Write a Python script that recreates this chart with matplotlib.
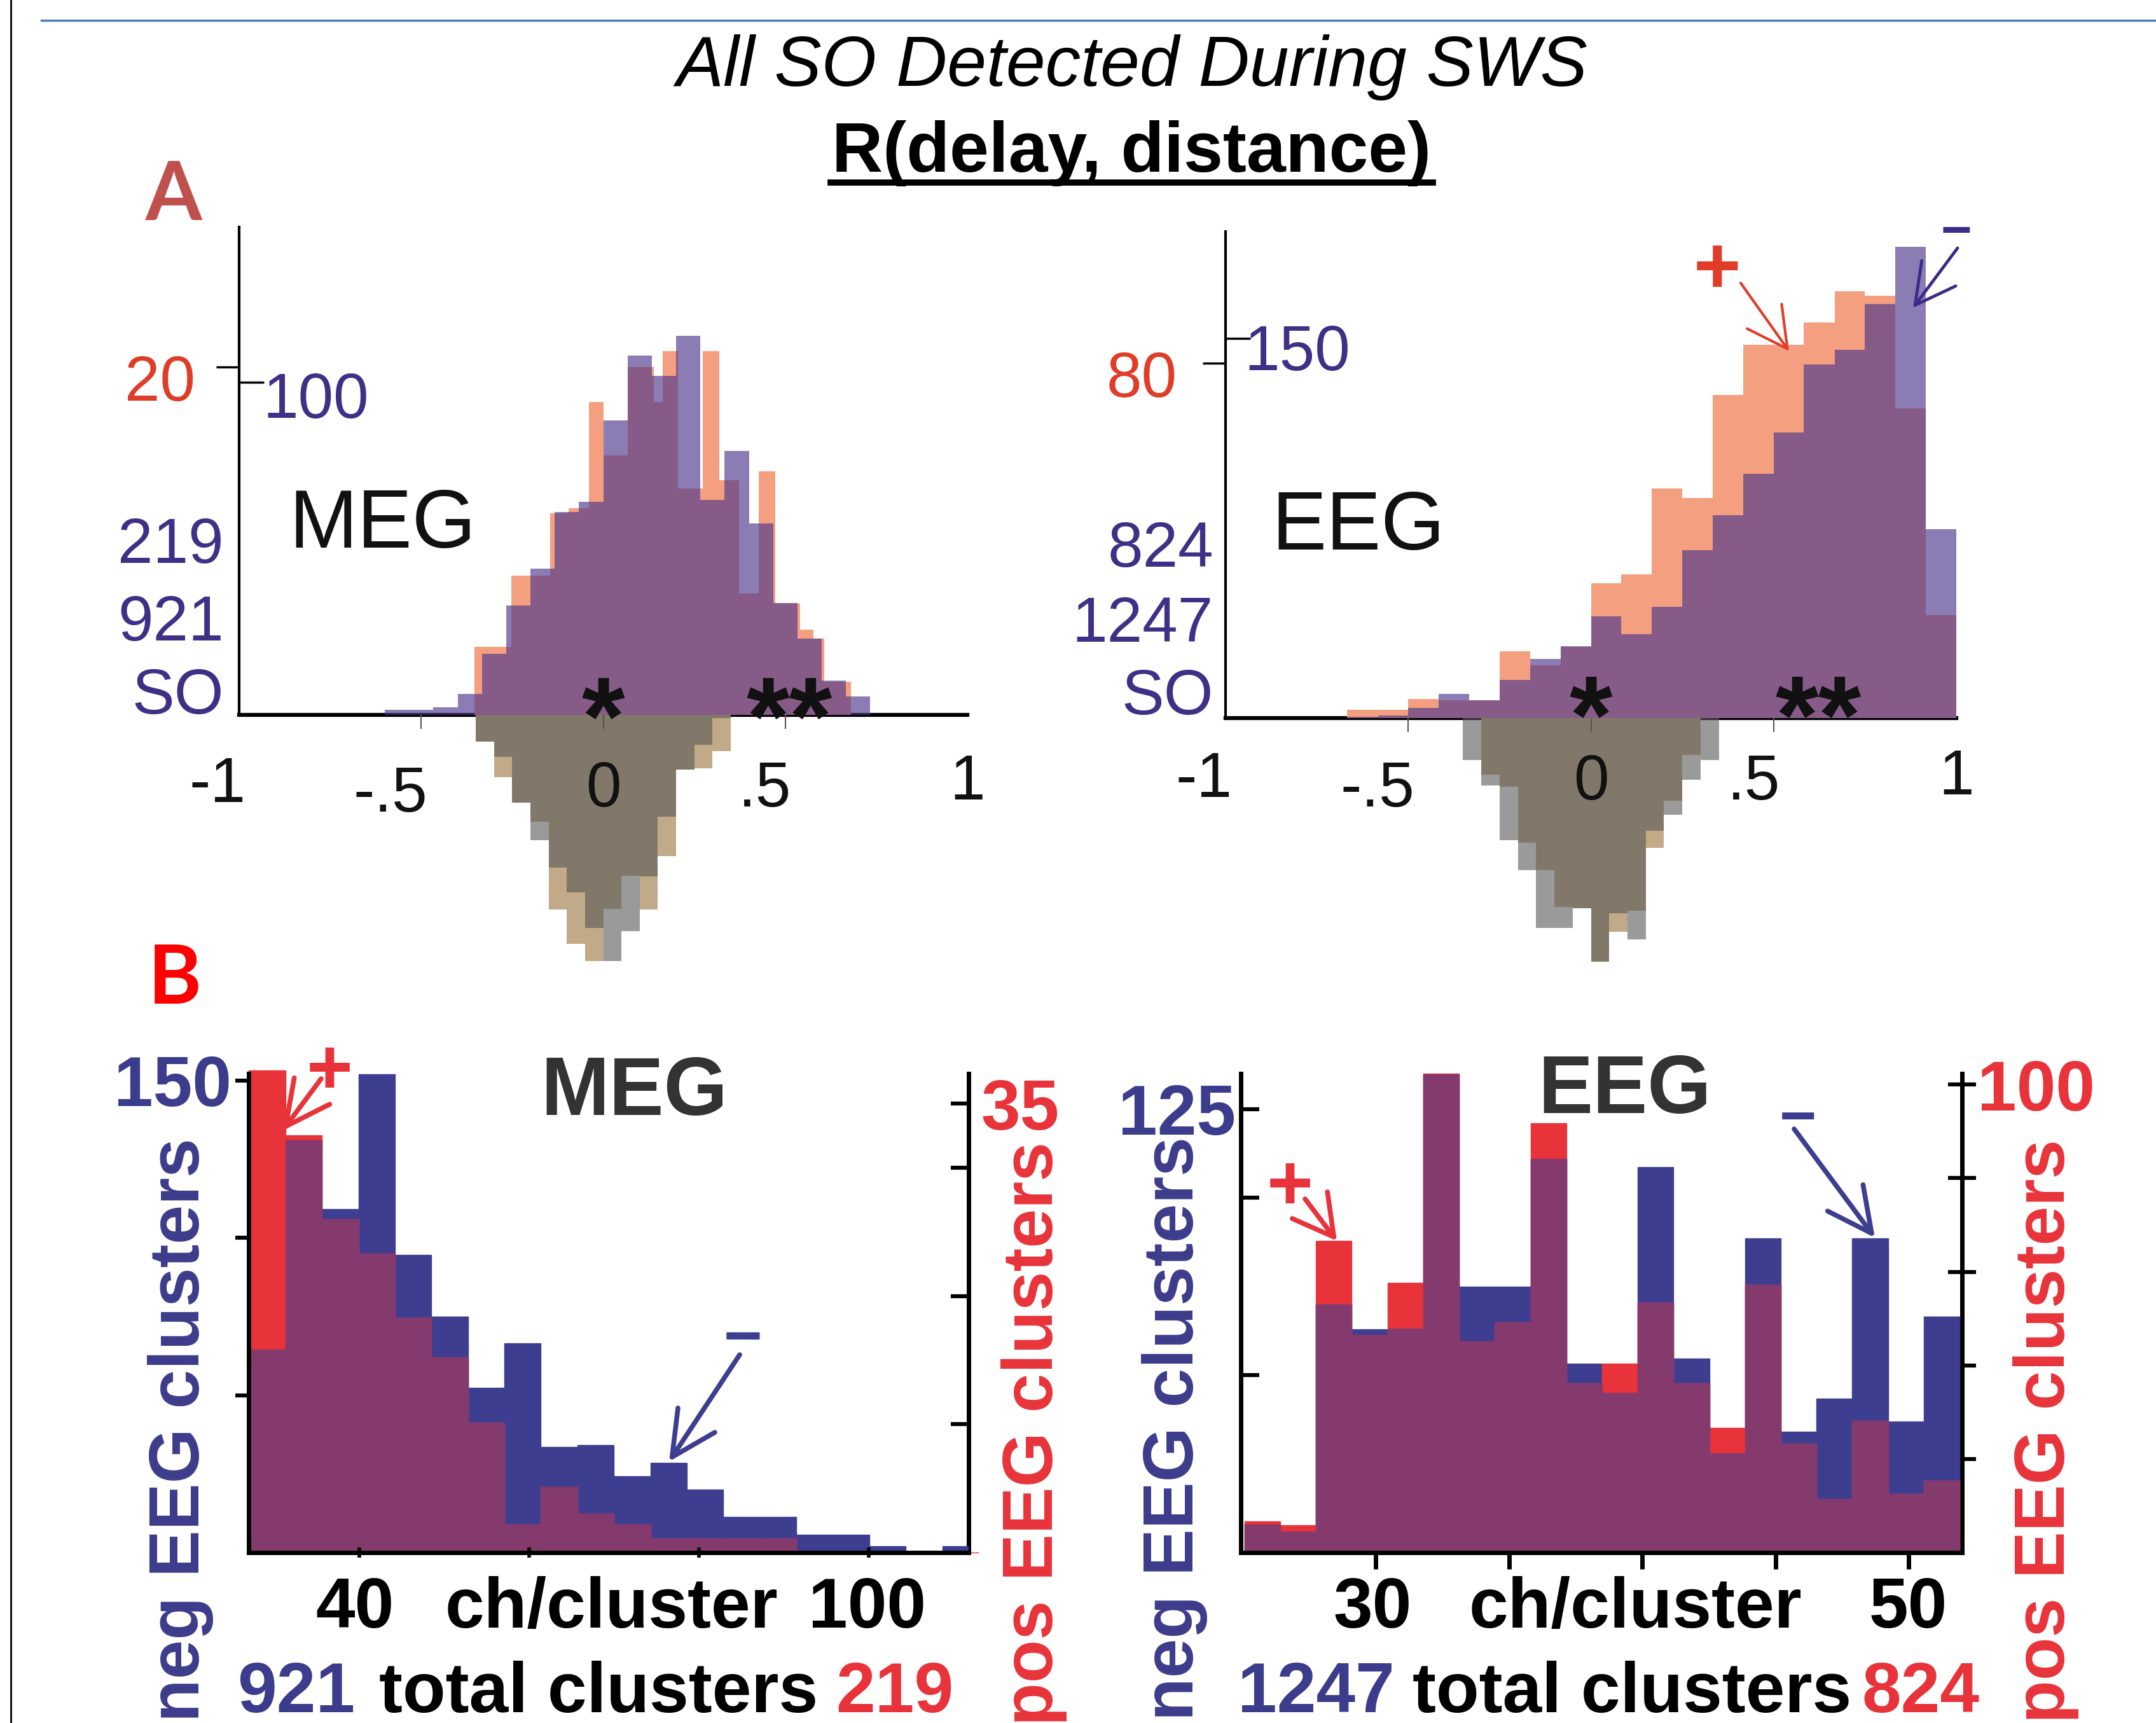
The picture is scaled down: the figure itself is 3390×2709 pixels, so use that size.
import numpy as np
import matplotlib
matplotlib.use("Agg")
import matplotlib.pyplot as plt
from matplotlib import font_manager
from matplotlib.lines import Line2D
from matplotlib.patches import FancyArrowPatch

W, H = 3390, 2709
plt.rcParams['font.family'] = ['Liberation Sans', 'DejaVu Sans']

# condensed face for the panel B labels, if installed
try:
    font_manager.findfont(font_manager.FontProperties(family='Liberation Sans Narrow', weight='bold'),
                          fallback_to_default=False)
    NARROW, NS = 'Liberation Sans Narrow', 1.0
except ValueError:
    NARROW, NS = 'Liberation Sans', 0.84

# ---------------- data ----------------
# A: R(delay, distance), MEG. pos = red scale, neg = purple scale
meg_pos_edges = [-0.353, -0.253, -0.199, -0.145, -0.095, -0.040, 0.0, 0.068, 0.139, 0.164,
                 0.206, 0.273, 0.319, 0.373, 0.427, 0.473, 0.540, 0.578, 0.607, 0.680]
meg_pos_counts = [3.9, 8.0, 8.0, 11.6, 11.9, 18.0, 14.9, 20.0, 18.0, 20.9,
                  13.0, 20.9, 13.5, 7.0, 14.0, 6.4, 4.9, 4.4, 1.9]
meg_neg_edges = [-0.600, -0.533, -0.467, -0.400, -0.333, -0.267, -0.200, -0.133, -0.067, 0.0,
                 0.067, 0.133, 0.200, 0.267, 0.333, 0.400, 0.467, 0.533, 0.600, 0.667, 0.733]
meg_neg_counts = [1.5, 1.5, 2.2, 6.3, 18.3, 32.9, 44.0, 61.0, 64.0, 88.5,
                  108.0, 102.0, 114.0, 64.7, 79.4, 57.5, 33.7, 23.0, 10.3, 5.6]
# downward histograms (no scale shown), in purple units
low_edges = [-0.35, -0.30, -0.25, -0.20, -0.15, -0.10, -0.05, 0.0,
             0.05, 0.10, 0.15, 0.20, 0.25, 0.30, 0.35]
meg_low_gray = [8.0, 12.6, 26.4, 37.7, 45.9, 53.3, 64.1, 74.0, 65.0, 48.6, 30.6, 16.4, 9.0, 1.0]
meg_low_tan = [8.0, 18.7, 26.4, 32.1, 58.5, 68.8, 74.0, 58.3, 48.4, 58.5, 42.4, 16.4, 16.1, 10.9]

# A: EEG
eeg_edges = [-0.667, -0.583, -0.500, -0.417, -0.333, -0.250, -0.167, -0.083, 0.0, 0.083, 0.167,
             0.250, 0.333, 0.417, 0.500, 0.583, 0.667, 0.750, 0.833, 0.917, 1.0]
eeg_pos_counts = [1.8, 1.8, 4.3, 3.9, 3.9, 15.0, 11.8, 16.0, 30.3, 32.4,
                  51.7, 49.5, 72.7, 84.1, 84.1, 89.1, 96.2, 95.2, 69.8, 23.2]
eeg_neg_counts = [0.5, 1.0, 3.8, 9.4, 6.9, 15.0, 23.2, 28.2, 40.1, 33.2,
                  43.9, 66.4, 80.2, 96.5, 112.8, 139.7, 145.4, 163.5, 186.1, 74.6]
eeg_low_gray = [16.8, 26.8, 48.5, 60.3, 83.2, 83.2, 75.4, 96.3, 77.2, 87.5, 44.5, 38.2, 24.6, 16.8]
eeg_low_tan = [0.0, 22.6, 27.2, 49.5, 60.3, 74.9, 75.4, 96.3, 84.7, 76.2, 51.5, 32.7, 14.6, 0.0]

a_ticks = [-1, -0.5, 0, 0.5, 1]
a_ticklabels = ['-1', '-.5', '0', '.5', '1']

# B: channels per cluster histograms
bmeg_left = [27.0, 31.3, 35.6, 39.9, 44.2, 48.5, 52.8, 57.1, 61.4, 65.7,
             70.0, 74.3, 78.6, 82.9, 87.2, 91.5, 95.8, 100.1, 104.4, 108.7]
bmeg_width = 4.3
bmeg_neg = [64.4, 130.9, 109.0, 152.0, 94.6, 75.0, 52.3, 66.5, 33.5, 34.2,
            24.2, 28.4, 20.1, 11.3, 11.3, 5.7, 5.7, 2.1, 0.0, 2.1]
bmeg_pos = [37.6, 32.5, 26.0, 23.3, 18.3, 15.2, 10.1, 2.2, 5.1, 3.0,
            2.2, 1.1, 1.1, 1.1, 1.1, 0, 0, 0, 0, 0]
beeg_left = [25.07, 26.41, 27.75, 29.10, 30.44, 31.78, 33.12, 34.46, 35.81, 37.15,
             38.49, 39.83, 41.17, 42.51, 43.86, 45.20, 46.54, 47.88, 49.22, 50.56]
beeg_width = 1.342
beeg_neg = [7.8, 5.9, 69.9, 62.9, 63.0, 134.8, 75.0, 75.0, 111.0, 53.2,
            45.0, 108.6, 54.6, 27.9, 88.5, 34.0, 43.4, 88.5, 37.0, 66.5]
beeg_pos = [6.6, 5.9, 66.6, 46.5, 57.6, 102.3, 45.1, 49.2, 91.7, 36.1,
            40.4, 53.4, 36.1, 26.7, 57.2, 23.2, 11.4, 28.1, 12.5, 15.3]

# colours
SALMON = '#F4A080'
PURPLE = '#4D378D'
TAN = '#C0AA88'
GRAY = '#575757'
PTXT = '#3F2F86'
RTXT = '#E03C28'
BLUE = '#3E3E91'
RED = '#E8333A'
MAUVE = '#853A6E'
BTXT = '#3C3C8C'

fig = plt.figure(figsize=(W / 100, H / 100), dpi=100)
fig.patch.set_facecolor('white')


def rect(l, t, r, b):
    return [l / W, 1 - b / H, (r - l) / W, (b - t) / H]


def ftext(x, y, s, **kw):
    return fig.text(x / W, 1 - y / H, s, **kw)


def farrow(tail, tip, color, lw, hl, hw):
    p = FancyArrowPatch((tail[0] / W, 1 - tail[1] / H), (tip[0] / W, 1 - tip[1] / H),
                        transform=fig.transFigure,
                        arrowstyle=f'->,head_length={hl},head_width={hw}',
                        mutation_scale=10, color=color, lw=lw, shrinkA=0, shrinkB=0)
    fig.add_artist(p)


def steps(ax, edges, vals, **kw):
    e = np.asarray(edges, dtype=float)
    return ax.bar(e[:-1], vals, width=np.diff(e), align='edge', linewidth=0, **kw)


def panel_a(box, zero, ppu, k, pos_e, pos_v, neg_e, neg_v, lg, lt, red_tick, pur_tick):
    l, t, r, b = box
    ax = fig.add_axes(rect(l, t, r, b))
    top = (zero - t) / ppu
    ax.set_xlim(-1, 1)
    ax.set_ylim(-(b - zero) / ppu, top)
    ax.patch.set_visible(False)
    steps(ax, pos_e, np.asarray(pos_v) * k, color=SALMON, zorder=1)
    steps(ax, neg_e, neg_v, color=PURPLE, alpha=0.65, zorder=1.1)
    steps(ax, low_edges, -np.asarray(lt), color=TAN, zorder=1)
    steps(ax, low_edges, -np.asarray(lg), color=GRAY, alpha=0.6, zorder=1.1)
    ax.spines['top'].set_visible(False)
    ax.spines['right'].set_visible(False)
    ax.spines['left'].set_bounds(0, top)
    ax.spines['left'].set_linewidth(3)
    ax.spines['bottom'].set_position(('data', 0))
    ax.spines['bottom'].set_bounds(-1, 1)
    ax.spines['bottom'].set_linewidth(4.5)
    ax.spines['bottom'].set_zorder(0.5)
    ax.set_xticks([-0.5, 0, 0.5])
    ax.tick_params(axis='x', direction='out', length=16, width=1.5, color='#555555',
                   labelbottom=False)
    ax.set_yticks([pur_tick])
    ax.tick_params(axis='y', direction='in', length=28, width=2.5, labelleft=False)
    sec = ax.secondary_yaxis('left', functions=(lambda y: y / k, lambda y: y * k))
    sec.set_yticks([red_tick])
    sec.tick_params(direction='out', length=26, width=2.5, labelleft=False)
    sec.spines['left'].set_visible(False)
    return ax


def a_xlabels(ax, dys):
    for x, s, dy in zip(a_ticks, a_ticklabels, dys):
        ha = 'center' if s in ('0', '1') else 'right'
        dx = 0 if ha == 'center' else 10
        ax.annotate(s, xy=(x, 0), xytext=(dx, dy), textcoords='offset pixels', ha=ha,
                    va='baseline', fontsize=72, color='#111111', annotation_clip=False)


def stars(ax, x, s, dy):
    ax.annotate(s, xy=(x, 0), xytext=(0, dy), textcoords='offset pixels', ha='center',
                va='baseline', fontsize=125, fontweight='bold', color='#111111')


def panel_b(box, xlim, ppu, k, left, width, neg, pos, lt, ll, ltp, rt, rl, rtp, xt, xtp):
    l, t, r, b = box
    ax = fig.add_axes(rect(l, t, r, b))
    ax.set_xlim(*xlim)
    ax.set_ylim(0, (b - t) / ppu)
    ax.patch.set_visible(False)
    neg = np.asarray(neg, float)
    pos = np.asarray(pos, float) * k
    ax.bar(left, neg, width, align='edge', color=BLUE, ec=BLUE, lw=1, zorder=1)
    ax.bar(left, pos, width, align='edge', color=RED, ec=RED, lw=1, zorder=1.1, clip_on=False)
    ax.bar(left, np.minimum(neg, pos), width, align='edge', color=MAUVE, ec=MAUVE, lw=1,
           zorder=1.2)
    ax.spines['top'].set_visible(False)
    ax.spines['right'].set_visible(False)
    ax.spines['left'].set_linewidth(5)
    ax.spines['bottom'].set_linewidth(5)
    ax.set_xticks(xt)
    ax.tick_params(axis='x', labelbottom=False, **xtp)
    ax.set_yticks(lt)
    ax.set_yticklabels(ll, fontfamily=NARROW, fontweight='bold', fontsize=95 * NS, color=BTXT)
    ax.tick_params(axis='y', **ltp)
    sec = ax.secondary_yaxis('right', functions=(lambda y: y / k, lambda y: y * k))
    sec.set_yticks(rt)
    sec.set_yticklabels(rl, fontfamily=NARROW, fontweight='bold', fontsize=95 * NS, color=RED)
    sec.spines['right'].set_linewidth(5)
    sec.tick_params(**rtp)
    return ax


# ---------------- panel A ----------------
ax1 = panel_a((376, 357, 1521, 1540), 1124, 5.23, 5.23, meg_pos_edges, meg_pos_counts,
              meg_neg_edges, meg_neg_counts, meg_low_gray, meg_low_tan, 20, 100)
a_xlabels(ax1, [-137, -152, -144, -144, -133])
stars(ax1, 0, '*', -62)
stars(ax1, 0.512, '**', -62)

ax2 = panel_a((1927, 364, 3076, 1540), 1128.6, 3.977, 1.754, eeg_edges, eeg_pos_counts,
              eeg_edges, eeg_neg_counts, eeg_low_gray, eeg_low_tan, 80, 150)
a_xlabels(ax2, [-124, -139, -128, -128, -120])
stars(ax2, 0, '*', -55)
stars(ax2, 0.622, '**', -55)

# A y labels
ftext(307, 630, '20', ha='right', va='baseline', fontsize=72, color=RTXT)
ftext(413, 657, '100', ha='left', va='baseline', fontsize=72, color=PTXT)
for s, y in (('219', 885), ('921', 1007), ('SO', 1122)):
    ftext(352, y, s, ha='right', va='baseline', fontsize=72, color=PTXT)
ftext(454, 861, 'MEG', ha='left', va='baseline', fontsize=93, color='#111111')

ftext(1851, 624, '80', ha='right', va='baseline', fontsize=72, color=RTXT)
ftext(1956, 582, '150', ha='left', va='baseline', fontsize=72, color=PTXT)
for s, y in (('824', 891), ('1247', 1009), ('SO', 1123)):
    ftext(1908, y, s, ha='right', va='baseline', fontsize=72, color=PTXT)
ftext(1999, 864, 'EEG', ha='left', va='baseline', fontsize=93, color='#111111')

ftext(2700, 428, '+', ha='center', va='center', fontsize=92, fontweight='bold', color=RTXT)
farrow((2737, 445), (2813, 552), RTXT, 3, 4.5, 2.4)
ftext(3076, 367, '\u2212', ha='center', va='center', fontsize=60, fontweight='bold', color='#3A2A8A')
farrow((3078, 390), (3008, 484), '#3A2A8A', 3.5, 4.5, 2.4)

# ---------------- panel B ----------------
panel_b((390.6, 1688, 1523, 2441), (26.94, 111.8), 4.95, 4.075, bmeg_left, bmeg_width,
        bmeg_neg, bmeg_pos,
        [50, 100, 150], ['', '', '150'], dict(direction='out', length=15, width=4.5, pad=4),
        [10, 20, 30, 35], ['', '', '', '35'], dict(direction='in', length=20, width=4.5, pad=14),
        [40, 60, 80, 100], dict(direction='inout', length=11, width=4))
panel_b((1951.4, 1688, 3085, 2441), (24.94, 52.0), 5.58, 1.3185, beeg_left, beeg_width,
        beeg_neg, beeg_pos,
        [50, 100, 125], ['', '', '125'], dict(direction='in', length=21, width=4.5, pad=6),
        [20, 40, 60, 80, 100], ['', '', '', '', '100'],
        dict(direction='inout', length=31, width=4.5, pad=2),
        [30, 35, 40, 45, 50], dict(direction='out', length=19, width=5))

bkw = dict(va='baseline', fontfamily=NARROW, fontweight='bold', fontsize=95 * NS)
ftext(997, 1753, 'MEG', ha='center', va='baseline', fontsize=93, fontweight='bold', color='#333333')
ftext(558, 2559, '40', ha='center', color='black', **bkw)
ftext(961, 2559, 'ch/cluster', ha='center', color='black', **bkw)
ftext(1364, 2559, '100', ha='center', color='black', **bkw)
ftext(466, 2692, '921', ha='center', color=BTXT, **bkw)
ftext(941, 2692, 'total clusters', ha='center', color='black', **bkw)
ftext(1407, 2692, '219', ha='center', color=RED, **bkw)
ftext(313, 2248, 'neg EEG clusters', ha='center', rotation=90, rotation_mode='anchor',
      color=BTXT, **bkw)
ftext(1655, 2254, 'pos EEG clusters', ha='center', rotation=90, rotation_mode='anchor',
      color=RED, **bkw)

ftext(2555, 1750, 'EEG', ha='center', va='baseline', fontsize=93, fontweight='bold', color='#333333')
ftext(2158, 2559, '30', ha='center', color='black', **bkw)
ftext(2571, 2559, 'ch/cluster', ha='center', color='black', **bkw)
ftext(3000, 2559, '50', ha='center', color='black', **bkw)
ftext(2069, 2692, '1247', ha='center', color=BTXT, **bkw)
ftext(2566, 2692, 'total clusters', ha='center', color='black', **bkw)
ftext(3020, 2692, '824', ha='center', color=RED, **bkw)
ftext(1876, 2246, 'neg EEG clusters', ha='center', rotation=90, rotation_mode='anchor',
      color=BTXT, **bkw)
ftext(3246, 2250, 'pos EEG clusters', ha='center', rotation=90, rotation_mode='anchor',
      color=RED, **bkw)

# +/- markers with arrows
ftext(518, 1688, '+', ha='center', va='center', fontsize=90, fontweight='bold', color=RED)
farrow((505, 1696), (444, 1778), RED, 5.5, 5, 2.5)
ftext(1168, 2108, '\u2212', ha='center', va='center', fontsize=75, fontweight='bold', color=BLUE)
farrow((1163, 2130), (1052, 2298), BLUE, 5.5, 5, 2.5)
ftext(2028, 1870, '+', ha='center', va='center', fontsize=90, fontweight='bold', color=RED)
farrow((2052, 1885), (2102, 1951), RED, 5.5, 4.5, 2.5)
ftext(2827, 1762, '\u2212', ha='center', va='center', fontsize=72, fontweight='bold', color=BLUE)
farrow((2821, 1775), (2948, 1946), BLUE, 5.5, 5, 2.5)

# ---------------- titles, letters, frame ----------------
ftext(1780, 135, 'All SO Detected During SWS', ha='center', va='baseline', fontsize=80,
      fontstyle='italic')
ftext(1779, 270, 'R(delay, distance)', ha='center', va='baseline', fontsize=80, fontweight='bold')
fig.add_artist(Line2D([1306 / W, 2253 / W], [1 - 287 / H] * 2, color='black', lw=7))
ftext(229, 346, 'A', ha='left', va='baseline', fontsize=92, fontweight='bold', color='#C0504D',
      fontfamily=['Lato', 'Liberation Sans'])
ftext(233, 1578, 'B', ha='left', va='baseline', fontsize=92, fontweight='bold', color='#FF0000',
      fontfamily=['Lato', 'Liberation Sans'])
fig.add_artist(Line2D([65 / W, 1], [1 - 32 / H] * 2, color='#4A7EBB', lw=2.5))
fig.add_artist(Line2D([17 / W] * 2, [0, 1], color='black', lw=2))

fig.savefig('out.png', dpi=100)
